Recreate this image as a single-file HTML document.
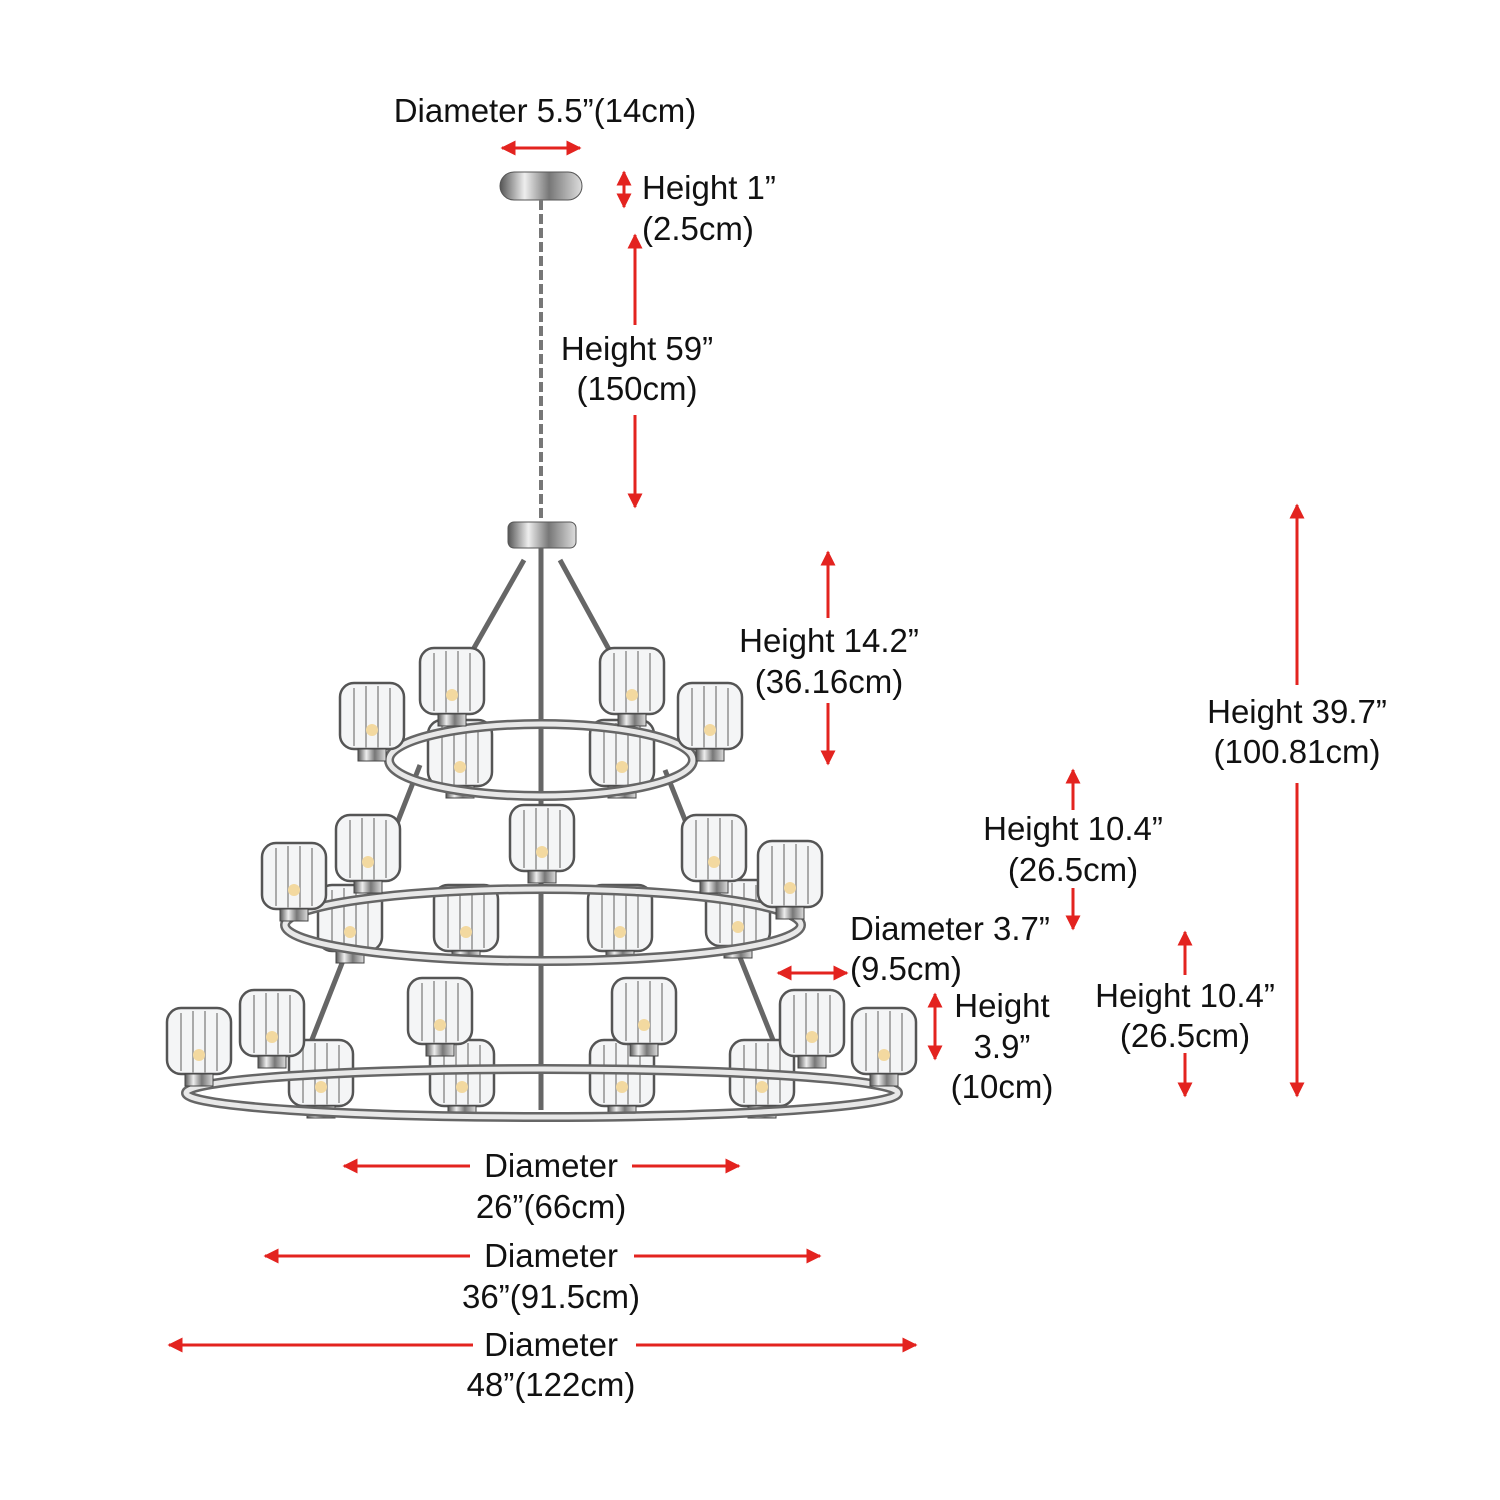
<!DOCTYPE html>
<html><head><meta charset="utf-8"><style>
html,body{margin:0;padding:0;background:#fff;}
svg{display:block}
text{font-family:"Liberation Sans",Arial,sans-serif;font-size:33px;fill:#111;}
</style></head><body>
<svg width="1500" height="1500" viewBox="0 0 1500 1500" xmlns="http://www.w3.org/2000/svg">
<defs>
<marker id="ah" viewBox="0 0 10 10" refX="9" refY="5" markerWidth="5" markerHeight="5" orient="auto-start-reverse"><path d="M0,0 L10,5 L0,10 z" fill="#e3231f"/></marker>
<linearGradient id="chrome" x1="0" y1="0" x2="1" y2="0"><stop offset="0" stop-color="#555"/><stop offset="0.3" stop-color="#eee"/><stop offset="0.6" stop-color="#777"/><stop offset="1" stop-color="#ddd"/></linearGradient>
<g id="shade"><rect x="-32" y="-35" width="64" height="66" rx="14" fill="#f4f5f6" stroke="#555" stroke-width="2.5"/>
<path d="M-18,-30 v58 M-6,-32 v62 M6,-32 v62 M18,-30 v58" stroke="#aaa" stroke-width="2"/>
<circle cx="0" cy="12" r="6" fill="#f3d9a0"/>
<rect x="-14" y="31" width="28" height="12" fill="url(#chrome)" stroke="#444"/></g>
</defs>
<g stroke="#e3231f" stroke-width="3" fill="none" marker-start="url(#ah)" marker-end="url(#ah)">
<line x1="502" y1="148" x2="580" y2="148"/>
<line x1="624" y1="172" x2="624" y2="207"/>
<line x1="778" y1="973" x2="847" y2="973"/>
<line x1="935" y1="994" x2="935" y2="1059"/>
</g>
<g stroke="#e3231f" stroke-width="3" fill="none" marker-start="url(#ah)">
<line x1="635" y1="235" x2="635" y2="325"/>
<line x1="828" y1="552" x2="828" y2="618"/>
<line x1="1297" y1="505" x2="1297" y2="685"/>
<line x1="1073" y1="770" x2="1073" y2="810"/>
<line x1="1185" y1="932" x2="1185" y2="975"/>
<line x1="344" y1="1166" x2="470" y2="1166"/>
<line x1="265" y1="1256" x2="470" y2="1256"/>
<line x1="169" y1="1345" x2="473" y2="1345"/>
</g>
<g stroke="#e3231f" stroke-width="3" fill="none" marker-end="url(#ah)">
<line x1="635" y1="415" x2="635" y2="507"/>
<line x1="828" y1="703" x2="828" y2="764"/>
<line x1="1297" y1="783" x2="1297" y2="1096"/>
<line x1="1073" y1="888" x2="1073" y2="929"/>
<line x1="1185" y1="1053" x2="1185" y2="1096"/>
<line x1="632" y1="1166" x2="739" y2="1166"/>
<line x1="634" y1="1256" x2="820" y2="1256"/>
<line x1="636" y1="1345" x2="916" y2="1345"/>
</g>
<rect x="500" y="172" width="82" height="28" rx="14" fill="url(#chrome)" stroke="#555"/>
<line x1="541" y1="200" x2="541" y2="522" stroke="#777" stroke-width="4" stroke-dasharray="10,4"/>
<rect x="508" y="522" width="68" height="26" rx="6" fill="url(#chrome)" stroke="#555"/>
<g stroke="#666" stroke-width="5">
<line x1="541" y1="548" x2="541" y2="1110"/>
<line x1="524" y1="560" x2="470" y2="655"/><line x1="560" y1="560" x2="612" y2="655"/>
<line x1="420" y1="765" x2="300" y2="1070"/><line x1="665" y1="770" x2="785" y2="1070"/>
</g>
<use href="#shade" x="460" y="755"/>
<use href="#shade" x="622" y="755"/>
<ellipse cx="541" cy="760" rx="152" ry="36" fill="none" stroke="#666" stroke-width="10"/>
<ellipse cx="541" cy="760" rx="152" ry="36" fill="none" stroke="#e8e8e8" stroke-width="5"/>
<use href="#shade" x="372" y="718"/><use href="#shade" x="452" y="683"/><use href="#shade" x="632" y="683"/><use href="#shade" x="710" y="718"/>
<use href="#shade" x="350" y="920"/><use href="#shade" x="466" y="920"/><use href="#shade" x="620" y="920"/><use href="#shade" x="738" y="915"/>
<ellipse cx="543" cy="925" rx="258" ry="36" fill="none" stroke="#666" stroke-width="10"/>
<ellipse cx="543" cy="925" rx="258" ry="36" fill="none" stroke="#e8e8e8" stroke-width="5"/>
<use href="#shade" x="294" y="878"/><use href="#shade" x="368" y="850"/><use href="#shade" x="542" y="840"/><use href="#shade" x="714" y="850"/><use href="#shade" x="790" y="876"/>
<use href="#shade" x="321" y="1075"/><use href="#shade" x="462" y="1075"/><use href="#shade" x="622" y="1075"/><use href="#shade" x="762" y="1075"/>
<ellipse cx="542" cy="1093" rx="356" ry="24" fill="none" stroke="#666" stroke-width="10"/>
<ellipse cx="542" cy="1093" rx="356" ry="24" fill="none" stroke="#e8e8e8" stroke-width="5"/>
<use href="#shade" x="199" y="1043"/><use href="#shade" x="272" y="1025"/><use href="#shade" x="440" y="1013"/><use href="#shade" x="644" y="1013"/><use href="#shade" x="812" y="1025"/><use href="#shade" x="884" y="1043"/>
<text x="545" y="122" text-anchor="middle">Diameter 5.5”(14cm)</text>
<text x="642" y="199">Height 1”</text>
<text x="642" y="240">(2.5cm)</text>
<text x="637" y="360" text-anchor="middle">Height 59”</text>
<text x="637" y="400" text-anchor="middle">(150cm)</text>
<text x="829" y="652" text-anchor="middle">Height 14.2”</text>
<text x="829" y="693" text-anchor="middle">(36.16cm)</text>
<text x="1297" y="723" text-anchor="middle">Height 39.7”</text>
<text x="1297" y="763" text-anchor="middle">(100.81cm)</text>
<text x="1073" y="840" text-anchor="middle">Height 10.4”</text>
<text x="1073" y="881" text-anchor="middle">(26.5cm)</text>
<text x="850" y="940">Diameter 3.7”</text>
<text x="850" y="980">(9.5cm)</text>
<text x="1002" y="1017" text-anchor="middle">Height</text>
<text x="1002" y="1058" text-anchor="middle">3.9”</text>
<text x="1002" y="1098" text-anchor="middle">(10cm)</text>
<text x="1185" y="1007" text-anchor="middle">Height 10.4”</text>
<text x="1185" y="1047" text-anchor="middle">(26.5cm)</text>
<text x="551" y="1177" text-anchor="middle">Diameter</text>
<text x="551" y="1218" text-anchor="middle">26”(66cm)</text>
<text x="551" y="1267" text-anchor="middle">Diameter</text>
<text x="551" y="1308" text-anchor="middle">36”(91.5cm)</text>
<text x="551" y="1356" text-anchor="middle">Diameter</text>
<text x="551" y="1396" text-anchor="middle">48”(122cm)</text>
</svg>
</body></html>
